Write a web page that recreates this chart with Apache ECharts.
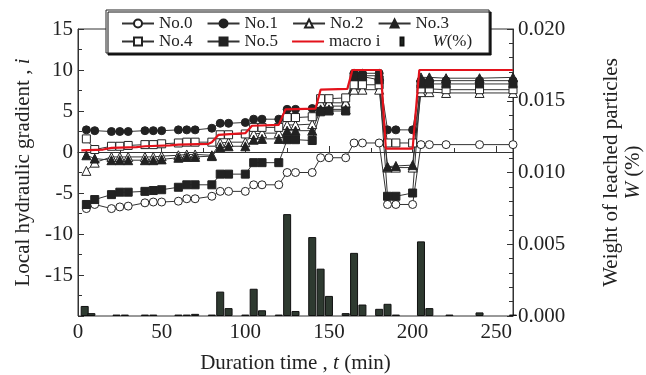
<!DOCTYPE html>
<html>
<head>
<meta charset="utf-8">
<script src="https://cdn.jsdelivr.net/npm/echarts@6/dist/echarts.min.js"></script>
<style>html,body{margin:0;padding:0;background:#fff}#c{width:646px;height:375px}</style>
</head>
<body>
<div id="c"></div>
<script>
// Measurement times (min)
const times = [5,10,20,25,30,40,45,50,60,65,70,80,85,90,100,105,110,120,125,130,140,145,150,160,165,170,180,185,190,200,205,210,220,240,260];
// Local hydraulic gradient i for each probe
const no0 = [-6.9,-6.4,-6.9,-6.7,-6.6,-6.2,-6.1,-6.1,-6.0,-5.7,-5.7,-5.4,-4.8,-4.8,-4.8,-4.0,-4.0,-4.0,-2.5,-2.5,-2.5,-0.7,-0.7,-0.7,1.1,1.1,1.1,-6.4,-6.4,-6.4,0.9,0.9,0.9,0.9,0.9];
const no1 = [2.7,2.6,2.5,2.5,2.5,2.6,2.6,2.6,2.7,2.7,2.7,2.9,3.5,3.5,3.6,4.0,4.0,4.0,5.2,5.2,5.3,5.5,5.6,5.6,9.6,9.6,9.6,2.7,2.7,2.7,8.7,8.7,8.7,8.7,8.7];
const no2 = [-2.3,-1.3,-0.6,-0.6,-0.6,-0.6,-0.6,-0.5,-0.4,-0.3,-0.3,-0.4,1.1,1.2,1.2,2.2,2.3,2.3,3.3,3.3,3.4,6.0,6.0,6.0,7.6,7.6,7.6,-1.9,-1.9,-1.9,7.3,7.3,7.2,7.2,7.2];
const no3 = [-0.4,-0.8,-1.0,-1.0,-1.0,-1.0,-1.0,-0.9,-0.7,-0.6,-0.6,-0.5,0.6,0.7,0.7,1.5,1.6,1.6,2.6,2.6,2.6,5.2,5.2,5.2,9.4,9.3,9.3,-1.8,-1.7,-1.6,9.1,9.1,9.0,9.0,9.1];
const no4 = [1.6,0.3,0.7,0.7,0.8,0.9,0.9,1.0,1.1,1.2,1.2,1.2,2.1,2.1,2.2,3.0,3.0,3.0,4.2,4.2,4.3,6.5,6.5,6.6,8.2,8.2,8.2,1.1,1.1,1.1,7.7,7.7,7.6,7.6,7.6];
const no5 = [-6.4,-5.8,-5.2,-4.9,-4.9,-4.8,-4.7,-4.6,-4.3,-4.0,-4.0,-4.0,-2.7,-2.7,-2.7,-1.3,-1.3,-1.3,1.5,1.5,1.4,4.9,5.0,5.0,9.2,9.2,8.8,-5.4,-5.4,-5.0,8.3,8.3,8.3,8.3,8.3];
// Macro hydraulic gradient
const macroT = [2,15,20,35,40,55,60,78,80,84,100,104,120,124,142,145,161,164,181,184,200,204,260];
const macroI = [0.2,0.3,0.5,0.6,0.7,0.8,0.9,1.0,1.2,2.1,2.3,3.2,3.3,5.2,5.3,7.6,7.7,10.0,10.0,0.4,0.4,10.0,10.0];
// Weight of leached particles W (%)
const barT = [4,8,23,28,40,45,60,65,70,80,85,90,100,105,110,120,125,130,140,145,150,160,165,170,180,185,190,205,210,222,240,260];
const barW = [0.0007,0.0002,0.0001,0.0001,0.0001,0.0001,0.0001,0.0001,0.00015,0.0001,0.0017,0.00055,0.0001,0.0019,0.0004,0.0001,0.0071,0.00035,0.0055,0.0033,0.0014,0.0002,0.0044,0.0008,0.0005,0.00085,0.0001,0.0052,0.00055,0.0001,0.00025,0.0001];
// Tick labels
const xTicks = [0,50,100,150,200,250];
const yLeftTicks = [-15,-10,-5,0,5,10,15];

const FONT = 'Liberation Serif';
const TXT = '#222';
const pair = (xs, ys) => xs.map((x, i) => [x, ys[i]]);

function probe(name, data, symbol, filled, size) {
  return {
    name, type: 'line', data: pair(times, data), symbol, symbolSize: size,
    lineStyle: { color: '#333', width: 1 },
    itemStyle: { color: filled ? '#222' : '#fff', borderColor: '#222', borderWidth: 1 },
    z: 3
  };
}

const chart = echarts.init(document.getElementById('c'));
const legendText = {
  fontFamily: FONT, fontSize: 17, color: TXT,
  rich: { it: { fontFamily: FONT, fontSize: 17, fontStyle: 'italic', color: TXT } }
};
chart.setOption({
  animation: false,
  grid: { left: 78, right: 133, top: 29, bottom: 59, show: true, borderColor: '#333', borderWidth: 1,
    outerBoundsMode: 'none', containLabel: false },
  legend: [
    {
      data: ['No.0', 'No.1', 'No.2', 'No.3'],
      left: 106, top: 10, orient: 'horizontal',
      padding: [5, 40, 21, 15],
      itemWidth: 32, itemHeight: 10, itemGap: 14,
      backgroundColor: '#fff', borderColor: '#222', borderWidth: 1,
      shadowColor: '#111', shadowBlur: 0, shadowOffsetX: 2, shadowOffsetY: 2,
      textStyle: legendText, z: 10
    },
    {
      data: ['No.4', 'No.5',
        { name: 'macro i', icon: 'path://M0,0M32,10M0,4L32,4L32,6L0,6Z' },
        { name: 'W(%)', icon: 'path://M0,0M32,10M5,1L8,1L8,9L5,9Z' }],
      left: 106, top: 33, orient: 'horizontal',
      padding: [0, 0, 0, 15],
      itemWidth: 32, itemHeight: 10, itemGap: 14,
      formatter: n => n === 'W(%)' ? '{it|W}(%)' : n,
      textStyle: legendText, z: 11
    }
  ],
  xAxis: {
    type: 'value', min: 0, max: 260, interval: 50,
    name: 'Duration time , {it|t} (min)', nameLocation: 'middle', nameGap: 37,
    nameTextStyle: { fontFamily: FONT, fontSize: 21, color: TXT,
      rich: { it: { fontFamily: FONT, fontSize: 21, fontStyle: 'italic', color: TXT } } },
    axisLine: { lineStyle: { color: '#333' } },
    axisTick: { inside: true, length: 6, lineStyle: { color: '#333' } },
    minorTick: { show: true, splitNumber: 2, length: 4, lineStyle: { color: '#333' } },
    splitLine: { show: false },
    axisLabel: { fontFamily: FONT, fontSize: 21, color: TXT, margin: 6,
      formatter: v => xTicks.includes(v) ? String(v) : '' }
  },
  yAxis: [
    {
      type: 'value', position: 'left', min: -20, max: 15, interval: 5,
      name: 'Local hydraulic gradient , {it|i}', nameLocation: 'middle', nameGap: 44, nameRotate: 90,
      nameTextStyle: { fontFamily: FONT, fontSize: 21, color: TXT,
        rich: { it: { fontFamily: FONT, fontSize: 21, fontStyle: 'italic', color: TXT } } },
      axisLine: { show: true, lineStyle: { color: '#333' } },
      axisTick: { inside: true, length: 6, lineStyle: { color: '#333' } },
      minorTick: { show: true, splitNumber: 2, length: 4, lineStyle: { color: '#333' } },
      splitLine: { show: false },
      axisLabel: { fontFamily: FONT, fontSize: 21, color: TXT, margin: 5,
        formatter: v => yLeftTicks.includes(v) ? String(v) : '' }
    },
    {
      type: 'value', position: 'right', min: 0, max: 0.02, interval: 0.005,
      name: 'Weight of leached particles\n{it|W} (%)', nameLocation: 'middle', nameGap: 87, nameRotate: 90,
      nameTextStyle: { fontFamily: FONT, fontSize: 21, color: TXT, lineHeight: 22,
        rich: { it: { fontFamily: FONT, fontSize: 21, fontStyle: 'italic', color: TXT, lineHeight: 22 } } },
      axisLine: { show: true, lineStyle: { color: '#333' } },
      axisTick: { inside: true, length: 6, lineStyle: { color: '#333' } },
      minorTick: { show: true, splitNumber: 5, length: 4, lineStyle: { color: '#333' } },
      splitLine: { show: false },
      axisLabel: { fontFamily: FONT, fontSize: 21, color: TXT, margin: 5,
        formatter: v => v.toFixed(3) }
    }
  ],
  series: [
    {
      name: 'W(%)', type: 'bar', yAxisIndex: 1, data: pair(barT, barW), barWidth: 8,
      itemStyle: { color: '#2e3a30', borderColor: '#111', borderWidth: 1 }, z: 1
    },
    probe('No.0', no0, 'circle', false, 8),
    probe('No.1', no1, 'circle', true, 8),
    probe('No.2', no2, 'triangle', false, 9),
    probe('No.3', no3, 'triangle', true, 9),
    probe('No.4', no4, 'rect', false, 8),
    probe('No.5', no5, 'rect', true, 8),
    {
      name: 'macro i', type: 'line', data: pair(macroT, macroI), symbol: 'none',
      lineStyle: { color: '#e3121b', width: 2.2 }, itemStyle: { color: '#e3121b' }, z: 4
    }
  ]
});
</script>
</body>
</html>
